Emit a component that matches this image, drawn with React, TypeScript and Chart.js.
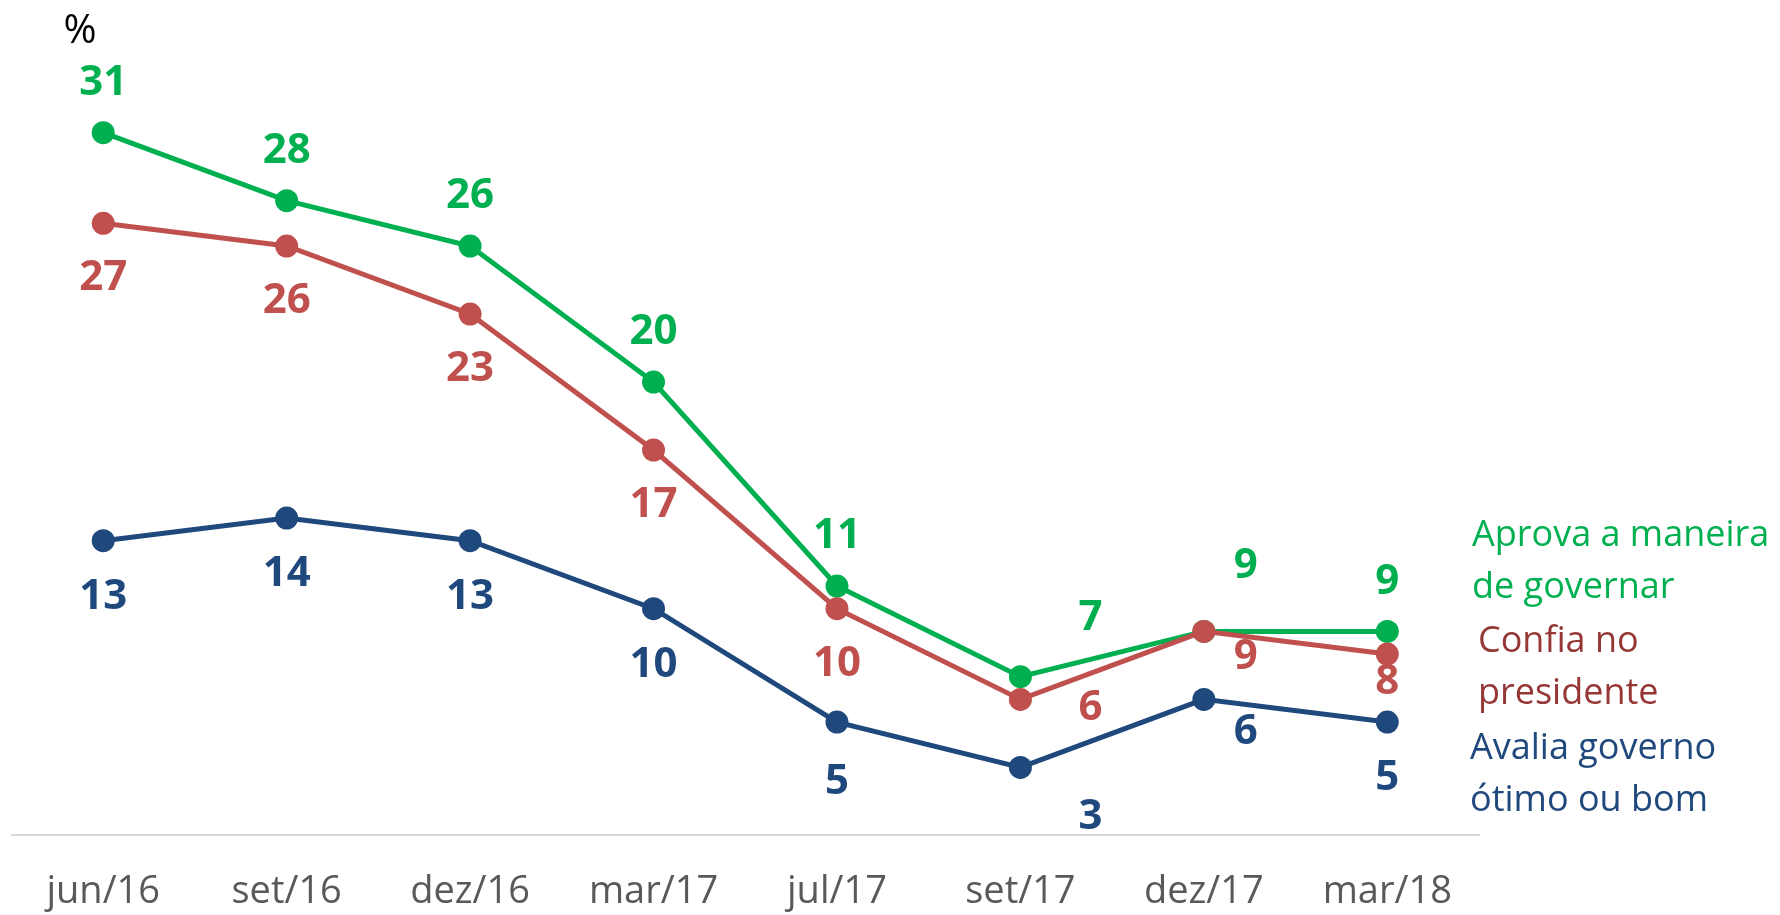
import { useEffect, useRef } from "react";
import { Chart, registerables } from "chart.js";

Chart.register(...registerables);

const categories = ["jun/16", "set/16", "dez/16", "mar/17", "jul/17", "set/17", "dez/17", "mar/18"];
const aprovaValues = [31, 28, 26, 20, 11, 7, 9, 9];
const confiaValues = [27, 26, 23, 17, 10, 6, 9, 8];
const avaliaValues = [13, 14, 13, 10, 5, 3, 6, 5];

const aprovaLegend = ["Aprova a maneira", "de governar"];
const confiaLegend = ["Confia no", "presidente"];
const avaliaLegend = ["Avalia governo", "ótimo ou bom"];

const GREEN = "#00B050";
const RED = "#C0504D";
const RED_TEXT = "#953735";
const BLUE = "#1F497D";
const FONT = "'Open Sans', sans-serif";

// label placement relative to each point (pixels)
const aprovaLabelOffsets = [[0, -50], [0, -50], [0, -50], [0, -50], [0, -50], [70, -59], [42, -65], [0, -49]];
const confiaLabelOffsets = [[0, 55], [0, 55], [0, 55], [0, 55], [0, 55], [70, 9], [42, 26], [0, 28]];
const avaliaLabelOffsets = [[0, 56], [0, 56], [0, 56], [0, 56], [0, 60], [70, 50], [42, 33], [0, 56]];

const labelPlugin = {
  id: "valueLabels",
  afterDatasetsDraw(chart: any) {
    const ctx = chart.ctx;
    ctx.save();
    ctx.font = `bold 42px ${FONT}`;
    ctx.textAlign = "center";
    ctx.textBaseline = "middle";
    chart.data.datasets.forEach((ds: any, di: number) => {
      const meta = chart.getDatasetMeta(di);
      ctx.fillStyle = ds.borderColor;
      meta.data.forEach((pt: any, i: number) => {
        const [dx, dy] = ds.labelOffsets[i];
        ctx.fillText(String(ds.data[i]), pt.x + dx, pt.y + dy);
      });
    });
    ctx.restore();
  },
  afterDraw(chart: any) {
    const ctx = chart.ctx;
    const ca = chart.chartArea;
    ctx.save();
    ctx.textBaseline = "middle";
    ctx.textAlign = "left";
    ctx.font = `36px ${FONT}`;
    const blocks: [string[], string, number, number][] = [
      [aprovaLegend, GREEN, -7, 536],
      [confiaLegend, RED_TEXT, -1, 642],
      [avaliaLegend, BLUE, -9, 749],
    ];
    blocks.forEach(([lines, color, dx, y0]) => {
      ctx.fillStyle = color;
      lines.forEach((t, k) => ctx.fillText(t, ca.right + dx, y0 + k * 52));
    });
    ctx.fillStyle = "#000000";
    ctx.font = `40px ${FONT}`;
    ctx.textAlign = "center";
    ctx.fillText("%", 80, 32);
    ctx.restore();
  },
};

export default function App() {
  const ref = useRef<HTMLCanvasElement>(null);
  useEffect(() => {
    if (!ref.current) return;
    const mk = (label: string, data: number[], color: string, offsets: number[][]) => ({
      label,
      data,
      borderColor: color,
      backgroundColor: color,
      pointBackgroundColor: color,
      pointBorderWidth: 0,
      pointRadius: 11.5,
      borderWidth: 5,
      tension: 0,
      labelOffsets: offsets,
    });
    const chart = new Chart(ref.current, {
      type: "line",
      data: {
        labels: categories,
        datasets: [
          mk("Avalia governo ótimo ou bom", avaliaValues, BLUE, avaliaLabelOffsets),
          mk("Confia no presidente", confiaValues, RED, confiaLabelOffsets),
          mk("Aprova a maneira de governar", aprovaValues, GREEN, aprovaLabelOffsets),
        ] as any,
      },
      options: {
        animation: false,
        responsive: false,
        layout: { padding: { left: 10, right: 301, top: 42, bottom: -34 } },
        plugins: { legend: { display: false }, tooltip: { enabled: false } },
        scales: {
          x: {
            offset: true,
            grid: { display: false, drawTicks: false },
            border: { display: true, color: "#D9D9D9", width: 2 },
            ticks: { color: "#595959", font: { family: FONT, size: 38 }, padding: 34, maxRotation: 0 },
          },
          y: { display: false, min: 0, max: 35 },
        },
      },
      plugins: [labelPlugin],
    });
    return () => chart.destroy();
  }, []);
  return (
    <div style={{ position: "absolute", left: 0, top: 0, width: 1780, height: 915, background: "#fff" }}>
      <canvas ref={ref} width={1780} height={915} />
    </div>
  );
}
